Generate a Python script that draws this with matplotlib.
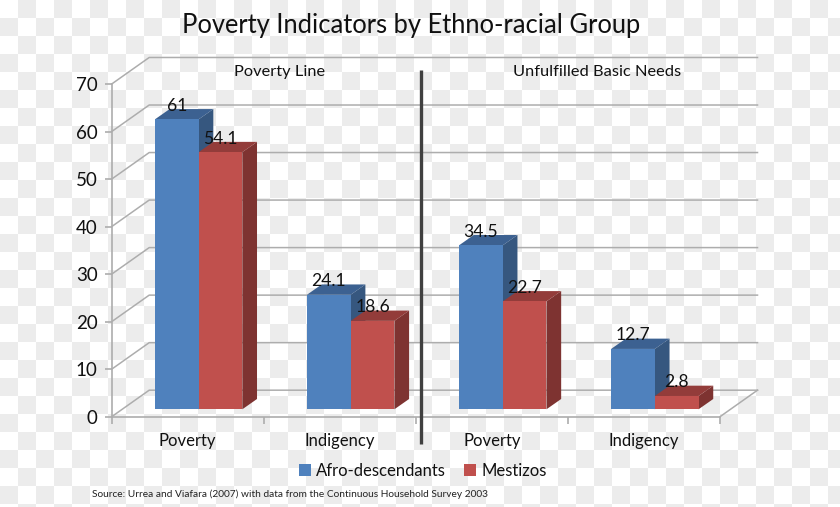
import numpy as np
import matplotlib
matplotlib.use("Agg")
import matplotlib.pyplot as plt

plt.rcParams['font.family'] = ['Lato', 'DejaVu Sans']

W, H = 840, 507
categories = ["Poverty", "Indigency", "Poverty", "Indigency"]
afro = [61, 24.1, 34.5, 12.7]
mestizos = [54.1, 18.6, 22.7, 2.8]
afro_labels = ["61", "24.1", "34.5", "12.7"]
mestizo_labels = ["54.1", "18.6", "22.7", "2.8"]
yticks = [0, 10, 20, 30, 40, 50, 60, 70]
panels = ["Poverty Line", "Unfulfilled Basic Needs"]

C_AFRO, C_AFRO_TOP, C_AFRO_SIDE = "#4f81bd", "#3c6191", "#36577f"
C_MES, C_MES_TOP, C_MES_SIDE = "#c0504d", "#933c3a", "#7e3331"
C_GRID = "#adadad"

fig = plt.figure(figsize=(W / 100, H / 100), dpi=100, facecolor="white")

# transparency-style checkerboard backdrop
cell = 18
ex = np.arange(0, W + cell, cell)
ey = np.arange(0, H + cell, cell)
ix, iy = np.meshgrid(np.arange(len(ex) - 1), np.arange(len(ey) - 1))
board = (ix + iy) % 2
bg = fig.add_axes([0, 0, 1, 1], zorder=-10)
bg.pcolormesh(ex, ey, np.where(board > 0, 0.922, 1.0), cmap="gray", vmin=0, vmax=1, linewidth=0, antialiased=False)
bg.set_xlim(0, W)
bg.set_ylim(H, 0)
bg.axis("off")

L, R, T, B = 111.7, 720.0, 84.0, 416.7
ax = fig.add_axes([L / W, 1 - B / H, (R - L) / W, (B - T) / H])
ax.patch.set_alpha(0)
ax.set_xlim(0, 4)
ax.set_ylim(0, 70)

# depth offsets in data units
wall_dx, wall_dy = 37.5 / 152.07, 26.5 / 4.75
bar_dx, bar_dy = 14.7 / 152.07, 10.3 / 4.75
base = 7.4 / 4.75
shift = 0.0715
bw = 43.7 / 152.07

for s in ["top", "right"]:
    ax.spines[s].set_visible(False)
for s in ["left", "bottom"]:
    ax.spines[s].set_color(C_GRID)
    ax.spines[s].set_linewidth(1.2)

ax.set_yticks(yticks)
ax.set_xticks(range(5))
ax.set_xticklabels([])
ax.tick_params(axis="both", color=C_GRID, length=5, width=1.2, labelsize=13.5, pad=5, labelcolor="#111111")

for v in yticks:
    ax.plot([0, wall_dx, 4 + wall_dx], [v, v + wall_dy, v + wall_dy], color=C_GRID, lw=1.1, clip_on=False, zorder=1)
ax.plot([4, 4 + wall_dx], [0, wall_dy], color=C_GRID, lw=1.1, clip_on=False, zorder=1)

for i, name in enumerate(categories):
    ax.text(i + 0.5, -5.1, name, ha="center", va="center", fontsize=12, color="#111111")

x = np.arange(4) + 0.5 + shift
for xs, vals, col, ctop, cside, left in [
    (x - bw, afro, C_AFRO, C_AFRO_TOP, C_AFRO_SIDE, True),
    (x, mestizos, C_MES, C_MES_TOP, C_MES_SIDE, False),
]:
    for x0, v in zip(xs, vals):
        x1 = x0 + bw
        ax.fill([x1, x1 + bar_dx, x1 + bar_dx, x1],
                [base, base + bar_dy, base + v + bar_dy, base + v],
                color=cside, lw=0, clip_on=False, zorder=3)
        ax.fill([x0, x1, x1 + bar_dx, x0 + bar_dx],
                [base + v, base + v, base + v + bar_dy, base + v + bar_dy],
                color=ctop, lw=0, clip_on=False, zorder=3)
    ax.bar(xs, vals, width=bw, bottom=base, align="edge", color=col, lw=0, zorder=4, clip_on=False,
           label="Afro-descendants" if left else "Mestizos")

for i in range(4):
    ax.text(x[i] - bw / 2, base + afro[i] + 2.85, afro_labels[i], ha="center", va="center",
            fontsize=12.6, color="#111111", zorder=6)
    ax.text(x[i] + bw / 2, base + mestizos[i] + 2.85, mestizo_labels[i], ha="center", va="center",
            fontsize=12.6, color="#111111", zorder=6)

# divider between the two panels
ax.plot([2.034, 2.034], [-5.75, 72.9], color="#404040", lw=2.4, clip_on=False, zorder=7, solid_capstyle="butt")

ax.text(1.105, 72.5, panels[0], ha="center", va="center", fontsize=11.8, color="#111111")
ax.text(3.19, 72.5, panels[1], ha="center", va="center", fontsize=11.8, color="#111111")

fig.text(411 / W, 1 - 25 / H, "Poverty Indicators by Ethno-racial Group", ha="center", va="center",
         fontsize=18.4, color="#111111")

handles, labels = ax.get_legend_handles_labels()
fig.legend(handles, labels, loc="center", bbox_to_anchor=(423 / W, 1 - 471 / H), ncol=2, frameon=False,
           fontsize=12, handlelength=0.68, handleheight=0.68, handletextpad=0.34, columnspacing=1.09,
           labelcolor="#111111")

fig.text(92 / W, 1 - 494 / H, "Source: Urrea and Viafara (2007) with data from the Continuous Household Survey 2003",
         ha="left", va="center", fontsize=7.3, color="#222222")

fig.savefig("out.png", dpi=100)
